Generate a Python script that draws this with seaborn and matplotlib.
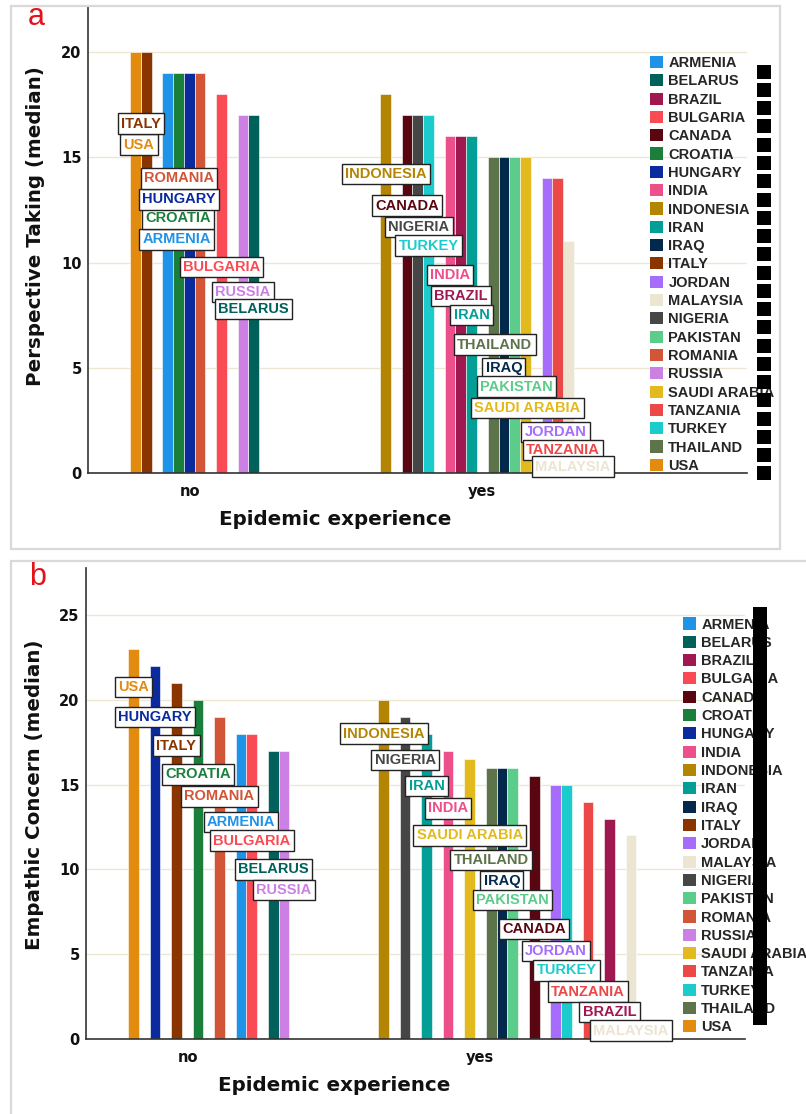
import matplotlib
matplotlib.use("Agg")
import matplotlib.pyplot as plt
import numpy as np
import pandas as pd
import seaborn as sns
from matplotlib.patches import Patch, Rectangle

# ---------------- data ----------------
COUNTRIES = ["ARMENIA", "BELARUS", "BRAZIL", "BULGARIA", "CANADA", "CROATIA",
             "HUNGARY", "INDIA", "INDONESIA", "IRAN", "IRAQ", "ITALY", "JORDAN",
             "MALAYSIA", "NIGERIA", "PAKISTAN", "ROMANIA", "RUSSIA",
             "SAUDI ARABIA", "TANZANIA", "TURKEY", "THAILAND", "USA"]
COLORS = ["#1f93e8", "#00605a", "#a01850", "#fa4b55", "#5a0610", "#1a7f3a",
          "#0a2a9e", "#ec4f8a", "#b38503", "#039e96", "#03284c", "#8a3400",
          "#a66cfb", "#ece5d2", "#464646", "#5ccc8a", "#d25538", "#cc80e4",
          "#e2ba1e", "#ec4848", "#1ccccc", "#5d7349", "#e38b0e"]
EXPERIENCE = ["no", "yes"]

# Perspective Taking (median)
PT_NO_COUNTRIES = ["USA", "ITALY", "ARMENIA", "CROATIA", "HUNGARY", "ROMANIA",
                   "BULGARIA", "RUSSIA", "BELARUS"]
PT_NO_VALUES = [20, 20, 19, 19, 19, 19, 18, 17, 17]
PT_NO_CLUSTER = [1, 1, 2, 2, 2, 2, 3, 4, 4]
PT_YES_COUNTRIES = ["INDONESIA", "CANADA", "NIGERIA", "TURKEY", "INDIA", "BRAZIL",
                    "IRAN", "THAILAND", "IRAQ", "PAKISTAN", "SAUDI ARABIA",
                    "JORDAN", "TANZANIA", "MALAYSIA"]
PT_YES_VALUES = [18, 17, 17, 17, 16, 16, 16, 15, 15, 15, 15, 14, 14, 11]
PT_YES_CLUSTER = [1, 2, 2, 2, 3, 3, 3, 4, 4, 4, 4, 5, 5, 5]

# Empathic Concern (median)
EC_NO_COUNTRIES = ["USA", "HUNGARY", "ITALY", "CROATIA", "ROMANIA", "ARMENIA",
                   "BULGARIA", "BELARUS", "RUSSIA"]
EC_NO_VALUES = [23, 22, 21, 20, 19, 18, 18, 17, 17]
EC_NO_CLUSTER = [1, 2, 3, 4, 5, 6, 6, 7, 7]
EC_YES_COUNTRIES = ["INDONESIA", "NIGERIA", "IRAN", "INDIA", "SAUDI ARABIA",
                    "THAILAND", "IRAQ", "PAKISTAN", "CANADA", "JORDAN", "TURKEY",
                    "TANZANIA", "BRAZIL", "MALAYSIA"]
EC_YES_VALUES = [20, 19, 18, 17, 16.5, 16, 16, 16, 15.5, 15, 15, 14, 13, 12]
EC_YES_CLUSTER = [1, 2, 3, 4, 5, 6, 6, 6, 7, 8, 8, 9, 10, 11]

# ---------------- layout (label placement, repel-like) ----------------
# country -> (x shift in bar widths, label centre y in data units)
PT_LABELS = {
    "no": {"USA": (0.33, 15.6), "ITALY": (-0.5, 16.6), "ARMENIA": (0.85, 11.1),
           "CROATIA": (0.0, 12.1), "HUNGARY": (-0.95, 13.0),
           "ROMANIA": (-1.95, 14.0), "BULGARIA": (0.0, 9.8),
           "RUSSIA": (0.0, 8.6), "BELARUS": (0.0, 7.8)},
    "yes": {"INDONESIA": (0.0, 14.2), "CANADA": (0.0, 12.7),
            "NIGERIA": (0.1, 11.7), "TURKEY": (0.0, 10.8), "INDIA": (0.0, 9.4),
            "BRAZIL": (0.0, 8.4), "IRAN": (0.0, 7.5), "THAILAND": (0.15, 6.1),
            "IRAQ": (0.0, 5.0), "PAKISTAN": (0.2, 4.1),
            "SAUDI ARABIA": (0.2, 3.1), "JORDAN": (0.8, 1.95),
            "TANZANIA": (0.5, 1.1), "MALAYSIA": (0.4, 0.3)},
}
EC_LABELS = {
    "no": {"USA": (0.0, 20.75), "HUNGARY": (0.0, 19.0), "ITALY": (0.0, 17.3),
           "CROATIA": (0.0, 15.6), "ROMANIA": (0.0, 14.3),
           "ARMENIA": (0.0, 12.8), "BULGARIA": (0.0, 11.7),
           "BELARUS": (0.0, 10.0), "RUSSIA": (0.0, 8.8)},
    "yes": {"INDONESIA": (0.0, 18.0), "NIGERIA": (0.0, 16.45),
            "IRAN": (0.0, 14.9), "INDIA": (0.0, 13.6),
            "SAUDI ARABIA": (0.0, 12.0), "THAILAND": (0.0, 10.55),
            "IRAQ": (0.0, 9.3), "PAKISTAN": (0.0, 8.2), "CANADA": (0.0, 6.5),
            "JORDAN": (0.0, 5.2), "TURKEY": (0.0, 4.05),
            "TANZANIA": (0.0, 2.8), "BRAZIL": (0.0, 1.6),
            "MALAYSIA": (0.0, 0.5)},
}

PALETTE = dict(zip(COUNTRIES, COLORS))
W_PX, H_PX, DPI = 806, 1114, 100
SLOT = 0.0369
START = {"no": -0.206, "yes": -0.348}

sns.set_style("white")
plt.rcParams["font.family"] = ["DejaVu Sans"]

fig = plt.figure(figsize=(W_PX / DPI, H_PX / DPI), dpi=DPI)


def make_frame(spec):
    rows = []
    for xi, exp in enumerate(EXPERIENCE):
        countries, values, clusters = spec[exp]
        slot, prev = 0, None
        for c, v, g in zip(countries, values, clusters):
            if prev is not None and g != prev:
                slot += 1
            rows.append({"country": c, "experience": exp, "value": v,
                         "xpos": xi + START[exp] + (slot + 0.5) * SLOT})
            slot += 1
            prev = g
    return pd.DataFrame(rows)


def fig_rect(x0, y0, x1, y1):
    fig.patches.append(Rectangle((x0 / W_PX, 1 - y1 / H_PX), (x1 - x0) / W_PX,
                                 (y1 - y0) / H_PX, transform=fig.transFigure,
                                 fill=False, ec="#d9d9d9", lw=1.6, zorder=0))


def draw_panel(rect, ytop, yticks, ylabel, spec, labels, leg_anchor, col, letter,
               letter_xy, ylabel_xy, xlabel_xy):
    left, top, right, bottom = rect
    ax = fig.add_axes([left / W_PX, 1 - bottom / H_PX, (right - left) / W_PX,
                       (bottom - top) / H_PX])
    df = make_frame(spec)
    sns.barplot(data=df, x="xpos", y="value", hue="country",
                hue_order=COUNTRIES, palette=PALETTE, native_scale=True,
                dodge=False, width=1.0, errorbar=None, saturation=1,
                legend=False, edgecolor="white", linewidth=0.4, ax=ax)

    for exp in EXPERIENCE:
        for c, (dx, ly) in labels[exp].items():
            row = df[(df.country == c) & (df.experience == exp)].iloc[0]
            ax.text(row.xpos + dx * SLOT, ly, c, color=PALETTE[c], ha="center",
                    va="center", fontsize=10.5, fontweight="bold",
                    family="Liberation Sans", zorder=5,
                    bbox=dict(boxstyle="square,pad=0.22", fc="white",
                              ec="#222222", lw=1.0))

    ax.set_xlim(-0.35, 1.91)
    ax.set_ylim(0, ytop)
    ax.set_xticks([0, 1])
    ax.set_xticklabels(EXPERIENCE)
    ax.set_yticks(yticks)
    ax.set_yticklabels([str(t) for t in yticks])
    ax.yaxis.grid(True, color="#ede6d3", lw=1.0)
    ax.xaxis.grid(False)
    ax.set_axisbelow(True)
    for s in ["top", "right"]:
        ax.spines[s].set_visible(False)
    for s in ["left", "bottom"]:
        ax.spines[s].set_color("#333333")
        ax.spines[s].set_linewidth(1.2)
    ax.tick_params(axis="both", length=0, labelsize=10, colors="#111111")
    ax.tick_params(axis="y", pad=4.5)
    ax.tick_params(axis="x", pad=8)
    for t in ax.get_xticklabels() + ax.get_yticklabels():
        t.set_fontweight("bold")
        t.set_fontsize(10.5)

    ax.set_ylabel(ylabel, fontsize=14.3, fontweight="bold", color="#111111")
    ax.set_xlabel("Epidemic experience", fontsize=14.3, fontweight="bold",
                  color="#111111")
    ax.yaxis.set_label_coords(*ylabel_xy)
    ax.xaxis.set_label_coords(*xlabel_xy)

    handles = [Patch(facecolor=PALETTE[c], edgecolor="none", label=c)
               for c in COUNTRIES]
    ax.legend(handles=handles, loc="upper left", bbox_to_anchor=leg_anchor,
              frameon=False, borderpad=0, borderaxespad=0, handlelength=0.9,
              handleheight=0.9, handletextpad=0.35, labelspacing=0.29,
              prop={"family": "Liberation Sans", "weight": "bold",
                    "size": 10.5})

    # black key column at the far right (one per legend row)
    cx, cy0, dy, ms, marker = col
    aw, ah = right - left, bottom - top
    xs = [(cx - left) / aw] * len(COUNTRIES)
    ys = [(bottom - (cy0 + i * dy)) / ah for i in range(len(COUNTRIES))]
    ax.plot(xs, ys, linestyle="none", marker=marker, markersize=ms,
            color="black", mec="black", mew=0, transform=ax.transAxes,
            clip_on=False, zorder=6)

    fig.text(letter_xy[0] / W_PX, 1 - letter_xy[1] / H_PX, letter,
             color="#e3121c", fontsize=22, family="Liberation Sans",
             ha="center", va="center")
    return ax


fig_rect(11, 6, 780, 549)
fig_rect(11, 561, 830, 1130)

tall = [(-0.357, -0.5), (0.357, -0.5), (0.357, 0.5), (-0.357, 0.5), (-0.357, -0.5)]

draw_panel((88, 7, 747, 473), 22.14, [0, 5, 10, 15, 20],
           "Perspective Taking (median)",
           {"no": (PT_NO_COUNTRIES, PT_NO_VALUES, PT_NO_CLUSTER),
            "yes": (PT_YES_COUNTRIES, PT_YES_VALUES, PT_YES_CLUSTER)},
           PT_LABELS, (0.853, 0.895), (763.5, 71.7, 18.26, 9.4, "s"), "a",
           (36, 17), (-0.065, 0.529), (0.375, -0.079))

draw_panel((86, 568, 745, 1039), 27.77, [0, 5, 10, 15, 20, 25],
           "Empathic Concern (median)",
           {"no": (EC_NO_COUNTRIES, EC_NO_VALUES, EC_NO_CLUSTER),
            "yes": (EC_YES_COUNTRIES, EC_YES_VALUES, EC_YES_CLUSTER)},
           EC_LABELS, (0.906, 0.895), (759.5, 617, 18.1, 15.1, tall), "b",
           (38, 577), (-0.064, 0.518), (0.376, -0.0786))

fig.savefig("out.png", dpi=DPI)
